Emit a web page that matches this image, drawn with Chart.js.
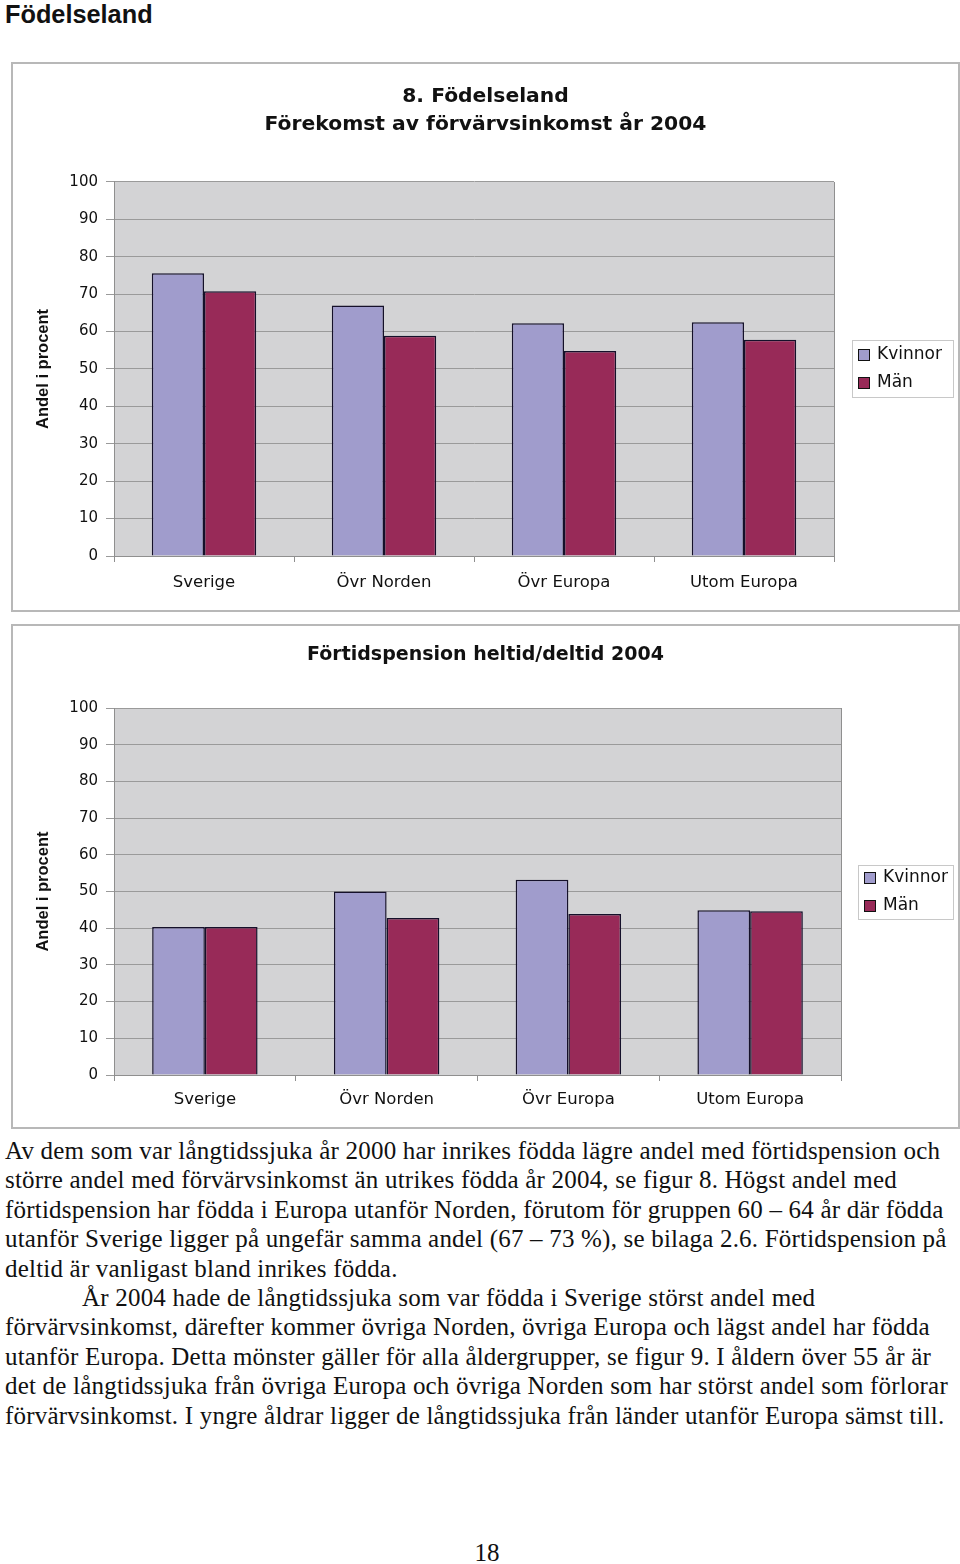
<!DOCTYPE html>
<html><head><meta charset="utf-8">
<script src="https://cdn.jsdelivr.net/npm/chart.js@4.4.0/dist/chart.umd.min.js"></script>
<style>
html,body{margin:0;padding:0;background:#fff}
body{width:960px;height:1564px;position:relative;overflow:hidden}
#h{position:absolute;left:5px;top:0px;font:bold 25.3px "Liberation Sans",Arial,sans-serif;color:#111;line-height:29px}
.frame{position:absolute;left:11px;width:945px;border:2px solid #b8b8b8}
#f1{top:62px;height:546px}
#f2{top:624px;height:501px}
canvas{position:absolute;left:12px}
#c1{top:63px}
#c2{top:625px}
#txt{position:absolute;left:5px;top:1136px;font:25px "Liberation Serif","Times New Roman",serif;letter-spacing:0.2px;line-height:29.4px;white-space:nowrap;color:#111}
#pg{position:absolute;left:0;width:974px;text-align:center;top:1539px;font:25px "Liberation Serif","Times New Roman",serif;color:#111}
</style></head>
<body>
<div id="h">Födelseland</div>
<div class="frame" id="f1"></div>
<div class="frame" id="f2"></div>
<canvas id="c1" width="947" height="548"></canvas>
<canvas id="c2" width="947" height="503"></canvas>
<div id="txt">Av dem som var långtidssjuka år 2000 har inrikes födda lägre andel med förtidspension och<br>större andel med förvärvsinkomst än utrikes födda år 2004, se figur 8. Högst andel med<br>förtidspension har födda i Europa utanför Norden, förutom för gruppen 60 – 64 år där födda<br>utanför Sverige ligger på ungefär samma andel (67 – 73 %), se bilaga 2.6. Förtidspension på<br>deltid är vanligast bland inrikes födda.<br><span style="padding-left:77px"></span>År 2004 hade de långtidssjuka som var födda i Sverige störst andel med<br>förvärvsinkomst, därefter kommer övriga Norden, övriga Europa och lägst andel har födda<br>utanför Europa. Detta mönster gäller för alla åldergrupper, se figur 9. I åldern över 55 år är<br>det de långtidssjuka från övriga Europa och övriga Norden som har störst andel som förlorar<br>förvärvsinkomst. I yngre åldrar ligger de långtidssjuka från länder utanför Europa sämst till.</div>
<div id="pg">18</div>
<script>
// ---- data ----
const categories = ['Sverige', 'Övr Norden', 'Övr Europa', 'Utom Europa'];
const seriesNames = ['Kvinnor', 'Män'];
const inkomstKvinnor = [75.6, 67.0, 62.2, 62.5];
const inkomstMan = [70.8, 58.9, 54.8, 57.8];
const pensionKvinnor = [40.3, 50.0, 53.2, 44.9];
const pensionMan = [40.3, 42.8, 43.9, 44.6];
const yMin = 0, yMax = 100, yStep = 10;
const title1 = ['8. Födelseland', 'Förekomst av förvärvsinkomst år 2004'];
const title2 = 'Förtidspension heltid/deltid 2004';
const yTitle = 'Andel i procent';

const colK = '#A09CCC', colM = '#982A58';
const sansW = '"DejaVu Sans", sans-serif';
const sans = '"Liberation Sans", Arial, sans-serif';

const plotBg = {
  id: 'plotBg',
  beforeDraw(chart) {
    const a = chart.chartArea, ctx = chart.ctx;
    ctx.save();
    ctx.fillStyle = '#D3D3D5';
    ctx.fillRect(a.left, a.top, a.right - a.left, a.bottom - a.top);
    ctx.restore();
  },
  beforeDatasetsDraw(chart) {
    const a = chart.chartArea, ctx = chart.ctx;
    ctx.save();
    ctx.strokeStyle = '#8f8f8f';
    ctx.lineWidth = 1;
    ctx.beginPath();
    ctx.moveTo(Math.round(a.right) + 0.5, a.top);
    ctx.lineTo(Math.round(a.right) + 0.5, a.bottom);
    ctx.stroke();
    ctx.restore();
  }
};

const legendBox = {
  id: 'legendBox',
  afterDraw(chart, args, o) {
    const ctx = chart.ctx, a = chart.chartArea;
    const x = Math.round(a.right + o.dx);
    const y = Math.round((a.top + a.bottom) / 2 - o.h / 2);
    ctx.save();
    ctx.fillStyle = '#fff';
    ctx.fillRect(x, y, o.w, o.h);
    ctx.strokeStyle = '#c8c8c8';
    ctx.lineWidth = 1;
    ctx.strokeRect(x + 0.5, y + 0.5, o.w, o.h);
    ctx.font = '17px ' + sansW;
    ctx.textBaseline = 'middle';
    chart.data.datasets.forEach((ds, i) => {
      const cy = y + o.first + i * o.gap;
      ctx.fillStyle = ds.backgroundColor;
      ctx.fillRect(x + o.sq, cy - 5, 11, 11);
      ctx.strokeStyle = '#111';
      ctx.lineWidth = 1;
      ctx.strokeRect(x + o.sq + 0.5, cy - 5 + 0.5, 11, 11);
      ctx.fillStyle = '#111';
      ctx.fillText(ds.label, x + o.tx, cy + 1);
    });
    ctx.restore();
  }
};

function makeChart(id, kv, mn, title, titleFont, titlePad, rightSpace, xHeight, xPad, leg) {
  return new Chart(document.getElementById(id), {
    type: 'bar',
    data: {
      labels: categories,
      datasets: [
        {label: seriesNames[0], data: kv, backgroundColor: colK, borderColor: '#15102a', borderWidth: 1.5,
         barPercentage: 1.0, categoryPercentage: 0.58},
        {label: seriesNames[1], data: mn, backgroundColor: colM, borderColor: '#15102a', borderWidth: 1.5,
         barPercentage: 1.0, categoryPercentage: 0.58}
      ]
    },
    options: {
      responsive: false,
      animation: false,
      layout: {padding: 0},
      plugins: {
        legend: {display: false},
        tooltip: {enabled: false},
        title: {display: true, text: title, color: '#111', font: titleFont, padding: titlePad},
        legendBox: leg
      },
      scales: {
        x: {
          grid: {display: true, drawOnChartArea: false, drawTicks: true, tickLength: 6, color: '#8f8f8f', offset: true},
          border: {display: true, color: '#8f8f8f', width: 1},
          ticks: {color: '#111', font: {family: sansW, size: 16.5}, padding: xPad, maxRotation: 0},
          afterFit(s) { s.height = xHeight; }
        },
        y: {
          min: yMin, max: yMax,
          ticks: {stepSize: yStep, color: '#111', font: {family: sansW, size: 15}, padding: 8},
          grid: {color: '#9a9a9a', lineWidth: 1, tickLength: 8, drawTicks: true},
          border: {display: true, color: '#8f8f8f', width: 1},
          title: {display: true, text: yTitle, color: '#111', font: {family: sans, size: 16.5, weight: 'bold'}, padding: {top: 22, bottom: 0}},
          afterFit(s) { s.width = 102; }
        },
        legendSpace: {
          type: 'linear', position: 'right', display: true,
          grid: {display: false, drawTicks: false}, border: {display: false},
          ticks: {display: false},
          afterFit(s) { s.width = rightSpace; }
        }
      }
    },
    plugins: [plotBg, legendBox]
  });
}

makeChart('c1', inkomstKvinnor, inkomstMan, title1,
  {family: sansW, size: 20.3, weight: 'bold', lineHeight: 1.379},
  {top: 20, bottom: 43}, 125, 55, 11,
  {dx: 18, w: 101, h: 57, first: 14, gap: 28, sq: 6, tx: 25});

makeChart('c2', pensionKvinnor, pensionMan, title2,
  {family: sansW, size: 19, weight: 'bold', lineHeight: 1.2},
  {top: 18.6, bottom: 41.6}, 118, 53, 9,
  {dx: 17, w: 95, h: 54, first: 12, gap: 28, sq: 6, tx: 25});
</script>
</body></html>
